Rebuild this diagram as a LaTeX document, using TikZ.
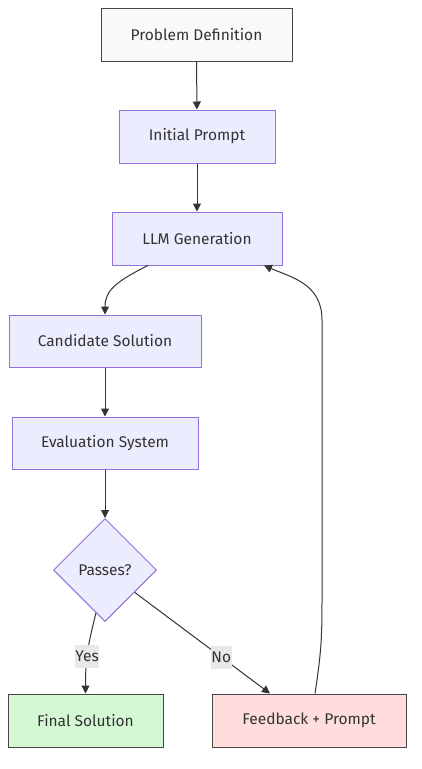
\documentclass[tikz,border=0pt]{standalone}
\usepackage{fontspec}
\setmainfont{Fira Sans}
\usetikzlibrary{shapes.geometric,arrows.meta}
\definecolor{txt}{HTML}{333333}
\definecolor{pfill}{HTML}{ECECFF}
\definecolor{pstroke}{HTML}{9370DB}
\definecolor{gfill}{HTML}{F9F9F9}
\definecolor{okfill}{HTML}{D4F7D4}
\definecolor{nofill}{HTML}{FFDDDD}
\definecolor{lblfill}{HTML}{E8E8E8}
\definecolor{edgec}{HTML}{333333}
\tikzset{
  txtfont/.style={text=txt, font=\fontsize{15.5}{18}\selectfont},
  base/.style={rectangle, draw, line width=1pt, txtfont, inner sep=0pt, minimum height=53pt},
  purple/.style={base, fill=pfill, draw=pstroke},
  dark/.style={base, draw=txt!90!white},
  edge/.style={draw=edgec, line width=1pt, -{Triangle[length=8pt,width=8pt]}},
  lbl/.style={fill=lblfill, txtfont, inner xsep=0.5pt, inner ysep=0pt, minimum height=23pt},
}
\begin{document}
\begin{tikzpicture}[x=1pt,y=-1pt]
\useasboundingbox (0,0) rectangle (422,769);
\node[dark, fill=gfill, minimum width=191pt] (pd) at (196.5,34.5) {Problem Definition};
\node[purple, minimum width=156pt] (ip) at (197,136.5) {Initial Prompt};
\node[purple, minimum width=170pt] (llm) at (197,238.5) {LLM Generation};
\node[purple, minimum width=192pt, minimum height=52pt] (cand) at (105,341) {Candidate Solution};
\node[purple, minimum width=186pt, minimum height=52pt] (eval) at (105,443) {Evaluation System};
\node[diamond, draw=pstroke, fill=pfill, line width=1pt, inner sep=0pt, minimum width=103pt, minimum height=103pt, txtfont] (pass) at (105,570) {Passes?};
\node[dark, fill=okfill, minimum width=155pt] (fin) at (85.5,720.5) {Final Solution};
\node[dark, fill=nofill, minimum width=194pt] (fb) at (309,720.5) {Feedback + Prompt};

\draw[edge] (pd) -- (ip);
\draw[edge] (ip) -- (llm);
\draw[edge] ([xshift=-49pt]llm.south) .. controls +(-32,16) and +(0,-24) .. (cand.north);
\draw[edge] (cand) -- (eval);
\draw[edge] (eval) -- (pass);
\draw[edge] (pass.-102) .. controls +(-7,30) and +(0,-40) .. node[lbl, pos=0.6] {Yes} (fin.north);
\draw[edge] (pass.-37) -- node[lbl, pos=0.64] {No} ([xshift=-39pt]fb.north);
\draw[edge] ([xshift=6pt]fb.north) .. controls +(6,-40) and +(0,40) .. (322,600) -- (322,320) .. controls +(0,-36) and +(28,12) .. ([xshift=67pt]llm.south);
\end{tikzpicture}
\end{document}
